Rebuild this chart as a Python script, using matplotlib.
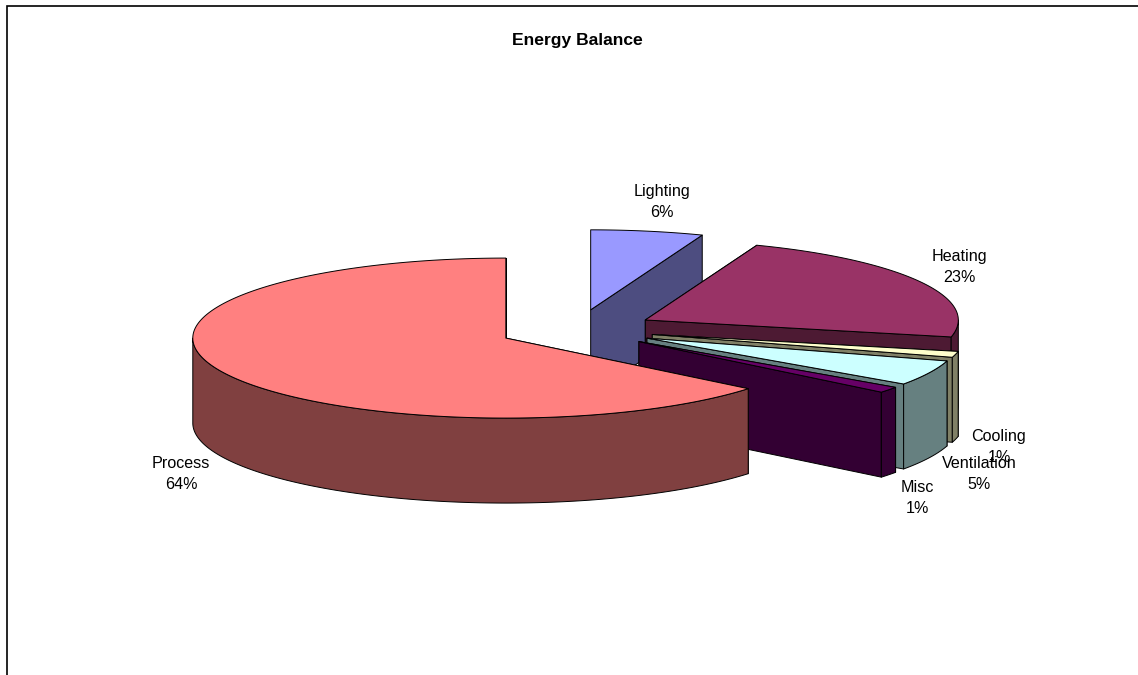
import numpy as np
from matplotlib import pyplot as plt
from matplotlib.patches import Polygon

plt.rcParams['font.family'] = ['Liberation Sans', 'DejaVu Sans']

# data, clockwise from 12 o'clock
names = ["Lighting", "Heating", "Cooling", "Ventilation", "Misc", "Process"]
values = [5.8, 22.6, 1.2, 5.1, 1.2, 64.1]

top_colors = ["#9999FF", "#993366", "#FFFFCC", "#CCFFFF", "#660066", "#FF8080"]
side_colors = ["#4D4D80", "#4D1A33", "#808066", "#668080", "#330033", "#804040"]

# label centres in pixels
label_xy = [(662, 202), (959, 267), (999, 447), (979, 474), (917, 498), (181, 474)]

# pie projection, in pixels
cx, cy = 576.5, 329.5
rx, ry = 313, 80
depth = 85
explode = 0.25


def rim(x0, y0, t0, t1):
    t = np.radians(np.linspace(t0, t1, max(int(t1 - t0) * 2, 2)))
    return np.column_stack([x0 + rx * np.sin(t), y0 - ry * np.cos(t)])


def draw_wedge(ax, t0, t1, top, side):
    mid = np.radians((t0 + t1) / 2)
    x0 = cx + explode * rx * np.sin(mid)
    y0 = cy - explode * ry * np.cos(mid)
    down = np.array([0, depth])
    apex = np.array([[x0, y0]])

    # the two cut faces, then the outer wall, then the top
    for t in (t0, t1):
        edge = rim(x0, y0, t, t + 0.01)[:1]
        face = np.vstack([apex, edge, edge + down, apex + down])
        ax.add_patch(Polygon(face, fc=side, ec="black", lw=0.7, joinstyle="round"))

    a, b = max(t0, 90), min(t1, 270)
    if a < b:
        arc = rim(x0, y0, a, b)
        wall = np.vstack([arc, arc[::-1] + down])
        ax.add_patch(Polygon(wall, fc=side, ec="black", lw=0.7, joinstyle="round"))

    shape = np.vstack([apex, rim(x0, y0, t0, t1)])
    ax.add_patch(Polygon(shape, fc=top, ec="black", lw=0.7, joinstyle="round"))


fig = plt.figure(figsize=(11.38, 6.75), dpi=100)
ax = fig.add_axes([0, 0, 1, 1])
ax.set_xlim(0, 1138)
ax.set_ylim(675, 0)
ax.axis("off")

# chart frame, cut off on the right and at the bottom
ax.plot([7, 7, 1138], [675, 5.5, 5.5], color="black", lw=1.2, solid_joinstyle="miter")

angles = np.cumsum([0] + values) * 360 / sum(values)
for i in range(len(values)):
    draw_wedge(ax, angles[i], angles[i + 1], top_colors[i], side_colors[i])

for name, val, (x, y) in zip(names, values, label_xy):
    ax.text(x, y, f"{name}\n{round(val)}%", ha="center", va="center", fontsize=11.6,
            linespacing=1.42, color="black")

ax.text(577, 40, "Energy Balance", ha="center", va="center", fontsize=12.6,
        fontweight="bold", color="black")

fig.savefig("out.png", dpi=100)
